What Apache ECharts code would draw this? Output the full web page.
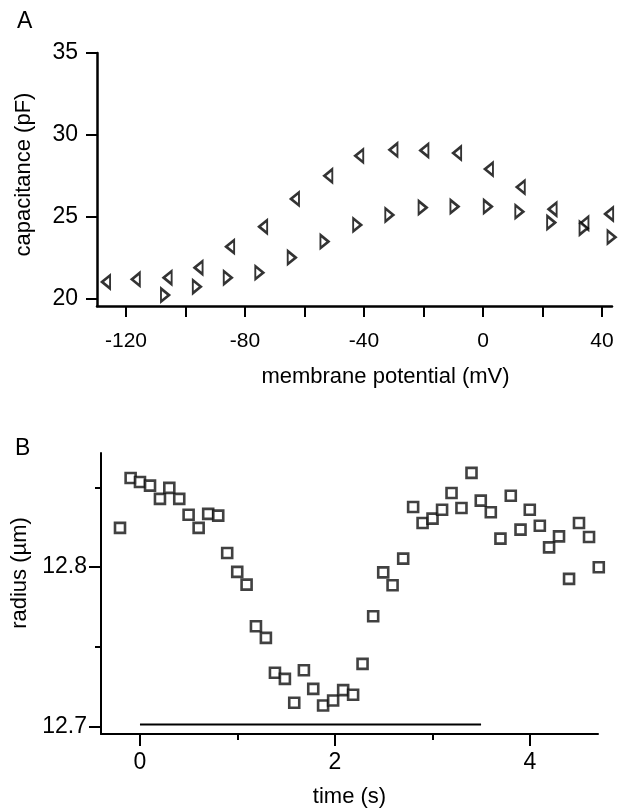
<!DOCTYPE html>
<html>
<head>
<meta charset="utf-8">
<script src="https://cdn.jsdelivr.net/npm/echarts@6/dist/echarts.min.js"></script>
<style>
  html, body { margin: 0; padding: 0; background: #fff; }
  #chart { width: 619px; height: 808px; }
</style>
</head>
<body>
<div id="chart"></div>
<script>
// ---- Panel A: capacitance vs membrane potential ----
const voltLeft  = [-126.7, -116.7, -106.0, -95.6, -85.0, -73.9, -63.2, -52.0, -41.6, -30.1, -19.7, -8.7, 2.0, 12.7, 23.4, 34.1, 42.4];
const capLeft   = [21.00, 21.16, 21.26, 21.87, 23.16, 24.38, 26.08, 27.49, 28.71, 29.08, 29.04, 28.88, 27.90, 26.80, 25.45, 24.59, 25.16];
const voltRight = [-106.9, -96.2, -85.8, -75.2, -64.3, -53.3, -42.3, -31.5, -20.3, -9.6, 1.6, 12.2, 22.9, 33.8, 43.2];
const capRight  = [20.20, 20.71, 21.26, 21.57, 22.49, 23.47, 24.49, 25.10, 25.55, 25.61, 25.61, 25.30, 24.63, 24.29, 23.74];
const capTicks   = [20, 25, 30, 35];
const voltTicks  = [-120, -100, -80, -60, -40, -20, 0, 20, 40];
const voltLabels = [-120, -80, -40, 0, 40];

// ---- Panel B: radius vs time ----
const timeS = [-0.205, -0.096, 0.0, 0.103, 0.205, 0.301, 0.403, 0.499, 0.602, 0.70,
               0.803, 0.895, 0.998, 1.094, 1.190, 1.292, 1.385, 1.487, 1.583, 1.682,
               1.778, 1.879, 1.982, 2.085, 2.187, 2.284, 2.393, 2.496, 2.592, 2.701,
               2.803, 2.900, 3.002, 3.100, 3.197, 3.299, 3.402, 3.497, 3.600, 3.699,
               3.805, 3.905, 4.000, 4.103, 4.198, 4.300, 4.403, 4.505, 4.608, 4.708];
const radiusUm = [12.8246, 12.8559, 12.8534, 12.8511, 12.8428, 12.8497, 12.8428, 12.8329, 12.8246, 12.8334,
                  12.8323, 12.8089, 12.7970, 12.7890, 12.7629, 12.7556, 12.7337, 12.7299, 12.7149, 12.7353,
                  12.7236, 12.7132, 12.7163, 12.7228, 12.7199, 12.7393, 12.7692, 12.7967, 12.7886, 12.8053,
                  12.8377, 12.8277, 12.8304, 12.8360, 12.8465, 12.8371, 12.8591, 12.8417, 12.8344, 12.8179,
                  12.8448, 12.8235, 12.8360, 12.8260, 12.8124, 12.8193, 12.7926, 12.8277, 12.8189, 12.7999];
const stimTimes = [0, 3.5];
const stimLevel = 12.7013;
const timeMajor = [0, 2, 4];
const timeMinor = [1, 3];
const radiusMajor = [12.7, 12.8];
const radiusMinor = [12.75, 12.85];

const FONT = 'Liberation Sans, Arial, Helvetica, sans-serif';
const INK = '#000';

const pairs = (xs, ys) => xs.map((x, i) => [x, ys[i]]);

const chart = echarts.init(document.getElementById('chart'), null, { renderer: 'canvas' });

const triStyle = { color: '#fff', borderColor: INK, borderWidth: 2.4 };

const option = {
  animation: false,
  backgroundColor: '#fff',
  textStyle: { fontFamily: FONT, color: '#000' },
  graphic: [
    { type: 'text', left: 17, top: 10, style: { text: 'A', fontSize: 23, fontFamily: FONT, fill: '#000' } },
    { type: 'text', left: 15, top: 437, style: { text: 'B', fontSize: 23, fontFamily: FONT, fill: '#000' } }
  ],
  grid: [
    { left: 97, top: 53, width: 515, height: 253, containLabel: false, outerBoundsMode: 'none' },
    { left: 101, top: 453, width: 497, height: 281, containLabel: false, outerBoundsMode: 'none' }
  ],
  xAxis: [
    {
      gridIndex: 0, type: 'value', position: 'bottom', min: -129.75, max: 43.36,
      name: 'membrane potential (mV)', nameLocation: 'middle', nameGap: 60,
      nameTextStyle: { fontSize: 22, fontFamily: FONT, color: '#000', padding: [0, 0, 0, 62] },
      axisLine: { show: true, onZero: false, lineStyle: { color: INK, width: 2.5 } },
      axisTick: { show: true, length: 11, lineStyle: { color: INK, width: 2 }, customValues: voltTicks },
      axisLabel: { show: true, margin: 25, fontSize: 21, fontFamily: FONT, color: '#000', customValues: voltLabels },
      splitLine: { show: false }
    },
    {
      gridIndex: 1, type: 'value', position: 'bottom', min: -0.4, max: 4.7,
      name: 'time (s)', nameLocation: 'middle', nameGap: 52,
      nameTextStyle: { fontSize: 22, fontFamily: FONT, color: '#000' },
      axisLine: { show: true, onZero: false, lineStyle: { color: INK, width: 2 } },
      axisTick: { show: true, length: 12, lineStyle: { color: INK, width: 2 }, customValues: timeMajor },
      axisLabel: { show: true, margin: 17, fontSize: 23, fontFamily: FONT, color: '#000', customValues: timeMajor },
      splitLine: { show: false }
    },
    {
      gridIndex: 1, type: 'value', position: 'bottom', min: -0.4, max: 4.7,
      axisLine: { show: false, onZero: false },
      axisTick: { show: true, length: 6, lineStyle: { color: INK, width: 2 }, customValues: timeMinor },
      axisLabel: { show: false },
      splitLine: { show: false }
    }
  ],
  yAxis: [
    {
      gridIndex: 0, type: 'value', position: 'left', min: 19.53, max: 35,
      name: 'capacitance (pF)', nameLocation: 'middle', nameGap: 62,
      nameTextStyle: { fontSize: 22, fontFamily: FONT, color: '#000', padding: [0, 0, 0, 10] },
      axisLine: { show: true, onZero: false, lineStyle: { color: INK, width: 2.5 } },
      axisTick: { show: true, length: 11, lineStyle: { color: INK, width: 2 }, customValues: capTicks },
      axisLabel: { show: true, margin: 19, fontSize: 23, fontFamily: FONT, color: '#000', customValues: capTicks },
      splitLine: { show: false }
    },
    {
      gridIndex: 1, type: 'value', position: 'left', min: 12.6953, max: 12.8716,
      name: 'radius (µm)', nameLocation: 'middle', nameGap: 67,
      nameTextStyle: { fontSize: 22, fontFamily: FONT, color: '#000', padding: [0, 0, 0, 41] },
      axisLine: { show: true, onZero: false, lineStyle: { color: INK, width: 2 } },
      axisTick: { show: true, length: 12, lineStyle: { color: INK, width: 2 }, customValues: radiusMajor },
      axisLabel: { show: true, margin: 14, fontSize: 23, fontFamily: FONT, color: '#000', customValues: radiusMajor,
                   formatter: v => Number(v).toFixed(1) },
      splitLine: { show: false }
    },
    {
      gridIndex: 1, type: 'value', position: 'left', min: 12.6953, max: 12.8716,
      axisLine: { show: false, onZero: false },
      axisTick: { show: true, length: 6, lineStyle: { color: INK, width: 2 }, customValues: radiusMinor },
      axisLabel: { show: false },
      splitLine: { show: false }
    }
  ],
  series: [
    {
      name: 'left triangles', type: 'scatter', xAxisIndex: 0, yAxisIndex: 0, clip: false,
      data: pairs(voltLeft, capLeft),
      symbol: 'triangle', symbolSize: [13, 8], symbolRotate: 90,
      itemStyle: triStyle, emphasis: { disabled: true }
    },
    {
      name: 'right triangles', type: 'scatter', xAxisIndex: 0, yAxisIndex: 0, clip: false,
      data: pairs(voltRight, capRight),
      symbol: 'triangle', symbolSize: [13, 8], symbolRotate: -90,
      itemStyle: triStyle, emphasis: { disabled: true }
    },
    {
      name: 'stimulus', type: 'line', xAxisIndex: 1, yAxisIndex: 1, clip: false,
      data: stimTimes.map(t => [t, stimLevel]),
      showSymbol: false, symbol: 'none',
      lineStyle: { color: INK, width: 2 }, emphasis: { disabled: true }
    },
    {
      name: 'radius', type: 'scatter', xAxisIndex: 1, yAxisIndex: 1, clip: false,
      data: pairs(timeS, radiusUm),
      symbol: 'rect', symbolSize: 10,
      itemStyle: { color: '#fff', borderColor: '#111', borderWidth: 2.6 }, emphasis: { disabled: true }
    }
  ]
};

chart.setOption(option);
</script>
</body>
</html>
